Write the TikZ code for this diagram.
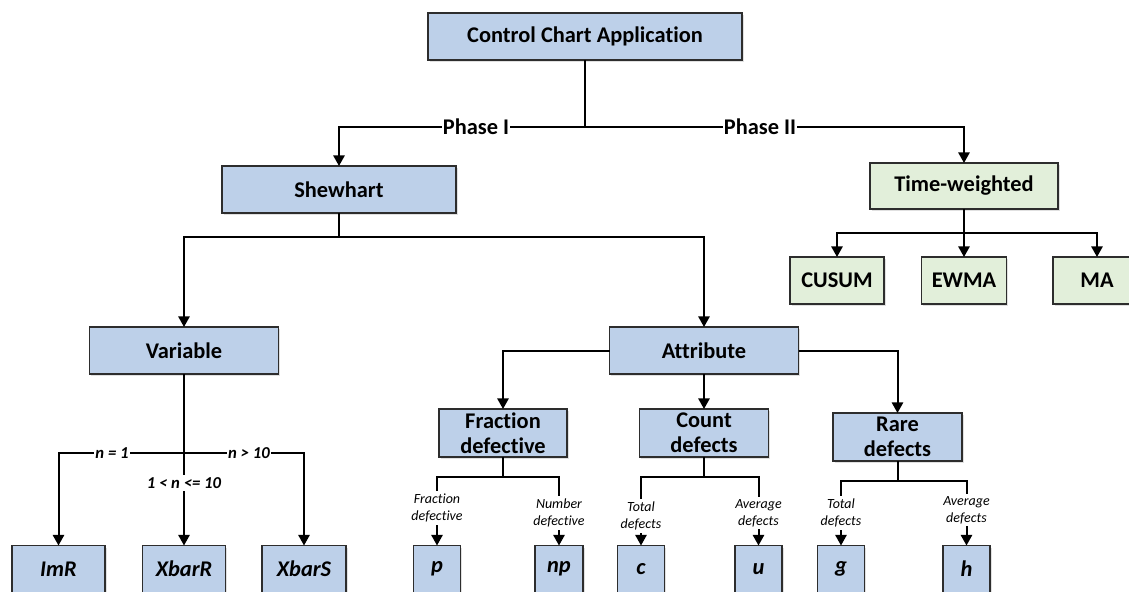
\documentclass[tikz,border=0pt]{standalone}
\usepackage{fontspec}
\setmainfont{Carlito}[Ligatures=NoCommon]
\usetikzlibrary{arrows.meta,shadows}
\definecolor{boxblue}{RGB}{189,208,233}
\definecolor{boxgreen}{RGB}{226,239,218}
\definecolor{boxline}{RGB}{45,45,45}
\begin{document}
\begin{tikzpicture}[x=0.75pt,y=-0.75pt,
  every node/.style={inner sep=0pt,outer sep=0pt},
  basebox/.style={draw=boxline,line width=0.9pt,align=center,
    drop shadow={shadow xshift=1.2pt,shadow yshift=-1.5pt,opacity=0.12,fill=black},
    font=\fontsize{16.8}{19}\selectfont\bfseries},
  bbox/.style={basebox,fill=boxblue},
  gbox/.style={basebox,fill=boxgreen},
  leafbox/.style={bbox,font=\fontsize{16.8}{19}\selectfont\bfseries\itshape},
  conn/.style={line width=1.5pt,draw=black},
  arr/.style={conn,-{Triangle[length=8pt,width=8.5pt]}},
  phlbl/.style={fill=white,inner xsep=1pt,inner ysep=2pt,font=\fontsize{16.8}{19}\selectfont\bfseries},
  nlbl/.style={fill=white,inner xsep=1pt,inner ysep=2pt,font=\fontsize{12.5}{14}\selectfont\bfseries\itshape},
  slbl/.style={fill=white,inner xsep=1pt,inner ysep=2pt,align=center,font=\fontsize{10.5}{12.75}\selectfont\itshape}
]
\useasboundingbox (0,0) rectangle (1129,592);

% boxes
\node[bbox,minimum width=235.5pt,minimum height=35.25pt] (root) at (585,36.5) {Control Chart Application};
\node[bbox,minimum width=175.5pt,minimum height=35.25pt] (shew) at (339,189.5) {Shewhart};
\node[gbox,minimum width=141pt,minimum height=34.5pt] (tw) at (964,186) {Time-weighted};
\node[gbox,minimum width=70.5pt,minimum height=35.25pt] (cusum) at (837,280.5) {CUSUM};
\node[gbox,minimum width=63.75pt,minimum height=35.25pt] (ewma) at (964,280.5) {EWMA};
\node[gbox,minimum width=66pt,minimum height=35.25pt] (ma) at (1097,280.5) {MA};
\node[bbox,minimum width=141.75pt,minimum height=35.25pt] (var) at (184,350.5) {Variable};
\node[bbox,minimum width=141.75pt,minimum height=35.25pt] (attr) at (704,350.5) {Attribute};
\node[bbox,minimum width=96pt,minimum height=36pt] (fd) at (503,433) {Fraction\\defective};
\node[bbox,minimum width=96.75pt,minimum height=36pt] (cd) at (704,433) {Count\\defects};
\node[bbox,minimum width=96.75pt,minimum height=36pt] (rd) at (897.5,437) {Rare\\defects};
\node[leafbox,minimum width=69.75pt,minimum height=35.25pt] (imr) at (58.5,569) {ImR};
\node[leafbox,minimum width=62.25pt,minimum height=35.25pt] (xbarr) at (184,569) {XbarR};
\node[leafbox,minimum width=63pt,minimum height=35.25pt] (xbars) at (304,569) {XbarS};
\node[leafbox,minimum width=35.25pt,minimum height=35.25pt] (p) at (437,569) {p};
\node[leafbox,minimum width=36pt,minimum height=35.25pt] (np) at (559,569) {np};
\node[leafbox,minimum width=35.25pt,minimum height=35.25pt] (c) at (641,569) {c};
\node[leafbox,minimum width=35.25pt,minimum height=35.25pt] (u) at (758.5,569) {u};
\node[leafbox,minimum width=35.25pt,minimum height=35.25pt] (g) at (841,569) {g};
\node[leafbox,minimum width=35.25pt,minimum height=35.25pt] (h) at (966.5,569) {h};

% junctions
\coordinate (j0) at (585,127);
\coordinate (j1) at (339,237);
\coordinate (j2) at (964,233);
\coordinate (j3) at (184,453);
\coordinate (j4) at (503,477);
\coordinate (j5) at (704,477);
\coordinate (j6) at (897.5,481);

% connectors
\draw[conn] (root.south) -- (j0);
\draw[arr] (j0) -| (shew.north);
\draw[arr] (j0) -| (tw.north);
\draw[conn] (shew.south) -- (j1);
\draw[arr] (j1) -| (var.north);
\draw[arr] (j1) -| (attr.north);
\draw[conn] (tw.south) -- (j2);
\draw[arr] (j2) -| (cusum.north);
\draw[arr] (j2) -- (ewma.north);
\draw[arr] (j2) -| (ma.north);
\draw[arr] (attr.west) -| (fd.north);
\draw[arr] (attr.south) -- (cd.north);
\draw[arr] (attr.east) -| (rd.north);
\draw[arr] (var.south) -- (xbarr.north);
\draw[arr] (j3) -| (imr.north);
\draw[arr] (j3) -| (xbars.north);
\draw[conn] (fd.south) -- (j4);
\draw[arr] (j4) -| (p.north);
\draw[arr] (j4) -| (np.north);
\draw[conn] (cd.south) -- (j5);
\draw[arr] (j5) -| (c.north);
\draw[arr] (j5) -| (u.north);
\draw[conn] (rd.south) -- (j6);
\draw[arr] (j6) -| (g.north);
\draw[arr] (j6) -| (h.north);

% labels
\node[phlbl] (ph1) at (476,127) {Phase I};
\node[phlbl] (ph2) at (760,127) {Phase II};
\node[nlbl] (n1) at (112,453) {n = 1};
\node[nlbl] (n2) at (184,483) {1 < n <= 10};
\node[nlbl] (n3) at (249,453) {n > 10};
\node[slbl] (l1) at (437,508) {Fraction\\defective};
\node[slbl] (l2) at (559,513) {Number\\defective};
\node[slbl] (l3) at (641,516) {Total\\defects};
\node[slbl] (l4) at (758.5,513) {Average\\defects};
\node[slbl] (l5) at (841,513) {Total\\defects};
\node[slbl] (l6) at (966.5,510) {Average\\defects};
\end{tikzpicture}
\end{document}
